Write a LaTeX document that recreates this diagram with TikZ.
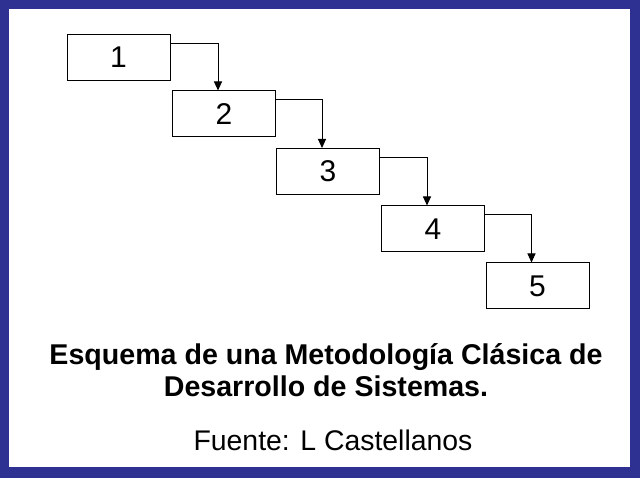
\documentclass[tikz,border=0pt]{standalone}
\usepackage{fontspec}
\setmainfont{Liberation Sans}
\usetikzlibrary{arrows.meta}
\definecolor{marco}{RGB}{46,48,146}
\tikzset{
  etapa/.style={draw,line width=1pt,minimum width=103pt,minimum height=46pt,inner sep=0pt,font=\fontsize{30}{36}\selectfont},
  flecha/.style={line width=0.9pt,-{Triangle[length=9pt,width=8pt]}}
}
\begin{document}
\begin{tikzpicture}[x=1pt,y=-1pt]
\useasboundingbox (0,0) rectangle (640,478);
\fill[marco] (0,0) rectangle (640,478);
\fill[white] (9,9) rectangle (630,467);
\node[etapa] (e1) at (118.5,57.5) {1};
\node[etapa] (e2) at (224,114) {2};
\node[etapa] (e3) at (328,171.5) {3};
\node[etapa] (e4) at (433,229) {4};
\node[etapa] (e5) at (537.5,286) {5};
\draw[flecha] ([yshift=-9pt]e1.north east) -| ([xshift=46pt]e2.north west);
\draw[flecha] ([yshift=-9pt]e2.north east) -| ([xshift=46pt]e3.north west);
\draw[flecha] ([yshift=-9pt]e3.north east) -| ([xshift=46pt]e4.north west);
\draw[flecha] ([yshift=-9pt]e4.north east) -| ([xshift=46pt]e5.north west);
\node[anchor=base,align=center,inner sep=0pt,font=\fontsize{28.6}{32}\selectfont\bfseries] (titulo) at (326,396)
  {Esquema de una Metodología Clásica de\\Desarrollo de Sistemas.};
\node[anchor=base,inner sep=0pt,font=\fontsize{28.4}{34}\selectfont] (fuente) at (333,450) {Fuente: L Castellanos};
\end{tikzpicture}
\end{document}
